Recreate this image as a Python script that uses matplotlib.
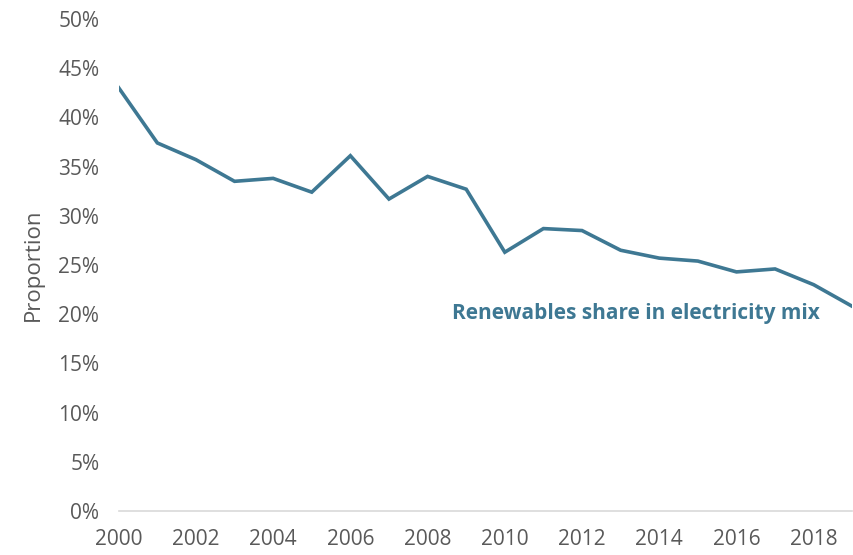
import matplotlib
matplotlib.use('Agg')
import matplotlib.pyplot as plt
from matplotlib.ticker import FuncFormatter

years = list(range(2000, 2020))
share = [43.0, 37.4, 35.7, 33.5, 33.8, 32.4, 36.1, 31.7, 34.0, 32.7,
         26.3, 28.7, 28.5, 26.5, 25.7, 25.4, 24.3, 24.6, 23.0, 20.8]
xticks = list(range(2000, 2019, 2))
yticks = list(range(0, 51, 5))

col = '#3e7893'
grey = '#595959'

plt.rcParams['font.family'] = ['Open Sans', 'DejaVu Sans']

fig = plt.figure(figsize=(8.54, 5.55), dpi=100)
ax = fig.add_axes([0.139, 0.079, 0.859, 0.887])

ax.plot(years, share, color=col, lw=2.6, solid_joinstyle='miter')

ax.set_xlim(2000, 2019)
ax.set_ylim(0, 50)
ax.set_xticks(xticks)
ax.set_yticks(yticks)
ax.yaxis.set_major_formatter(FuncFormatter(lambda v, p: '%d%%' % v))

for s in ['top', 'right', 'left']:
    ax.spines[s].set_visible(False)
ax.spines['bottom'].set_color('#d9d9d9')
ax.spines['bottom'].set_linewidth(1.2)
ax.tick_params(axis='both', length=0, colors=grey, labelsize=15)
ax.tick_params(axis='x', pad=13)
ax.tick_params(axis='y', pad=14)

ax.set_ylabel('Proportion', color=grey, fontsize=16, labelpad=10)

ax.text(2013.4, 20.1, 'Renewables share in electricity mix', color=col,
        fontsize=15, fontweight='bold', ha='center', va='center')

fig.savefig('out.png', dpi=100)
